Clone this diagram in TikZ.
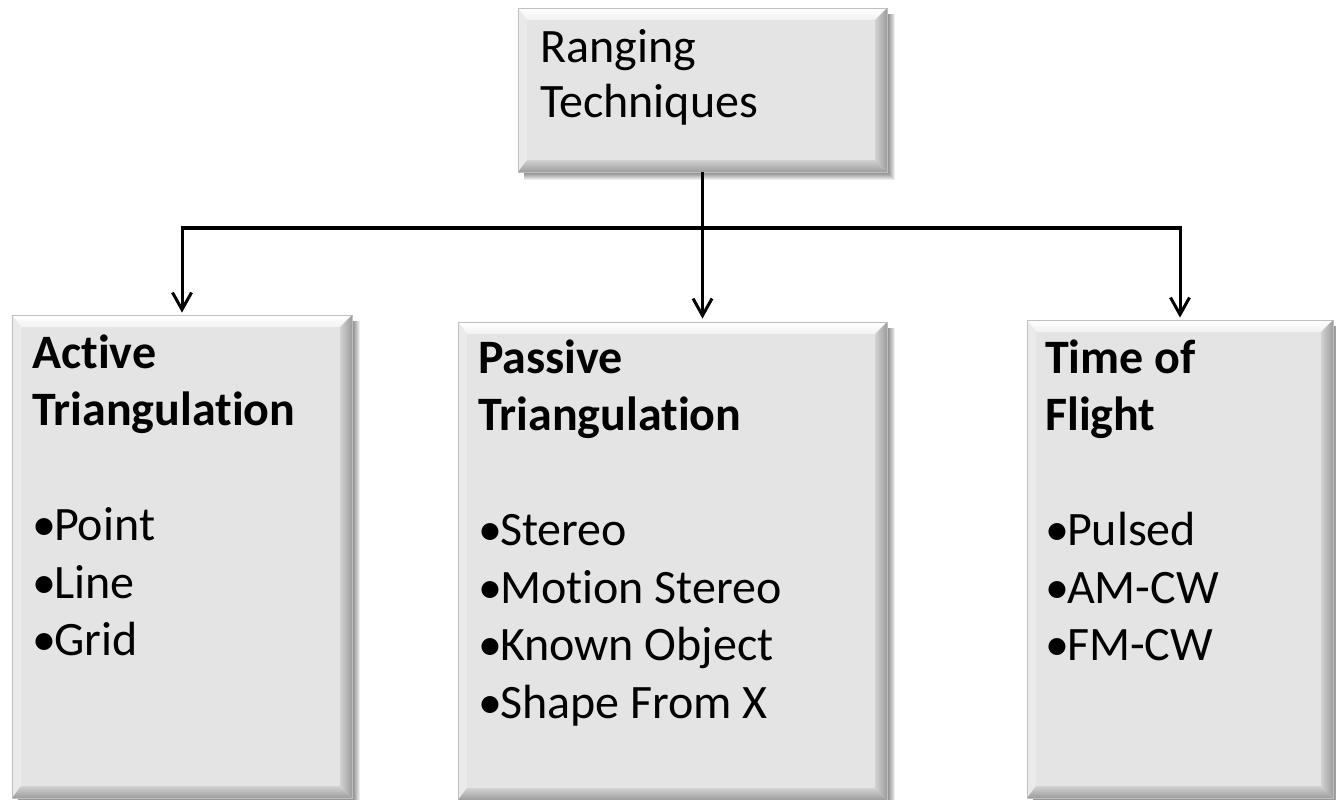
\documentclass[tikz,border=0pt]{standalone}
\usepackage{fontspec}
\setmainfont{Carlito}[Ligatures={NoCommon}]
\usetikzlibrary{arrows.meta}
\definecolor{facegray}{HTML}{E4E4E4}
\definecolor{topbev}{HTML}{F2F2F2}
\definecolor{leftbev}{HTML}{EAEAEA}
\definecolor{darkbev}{HTML}{9C9C9C}
\definecolor{midbev}{HTML}{D2D2D2}
\tikzset{
  boxshape/.style={rectangle, fill=facegray, draw=black!22, line width=0.8pt, inner sep=0pt},
  txt/.style={inner sep=0pt, anchor=base west, text=black, font=\fontsize{48}{57.5}\selectfont},
  conn/.style={line width=3pt, draw=black},
  barline/.style={line width=4.5pt, draw=black},
  arr/.style={conn, -{Straight Barb[length=17pt,width=19pt]}},
}
\newcommand\bul{•\kern-2pt}
\newcommand\stack[2]{\vtop{\baselineskip=#1pt\lineskiplimit=-200pt\lineskip=0pt #2}}
\newcommand\bevbox[5]{%
  \foreach \i in {0,...,7}{\fill[black,opacity=0.07] (#2+6,#3+6) rectangle (#4+8-\i,#5+8-\i);}
  \node[boxshape, minimum width={(#4)-(#2)}, minimum height={(#5)-(#3)}] (#1) at ({((#2)+(#4))/2},{((#3)+(#5))/2}) {};
  \shade[top color=white, bottom color=topbev] (#2,#3) -- (#4,#3) -- (#4-12,#3+12) -- (#2+9,#3+12) -- cycle;
  \fill[leftbev] (#2,#3) -- (#2+9,#3+12) -- (#2+9,#5-12) -- (#2,#5) -- cycle;
  \shade[left color=midbev, right color=darkbev] (#4,#3) -- (#4,#5) -- (#4-12,#5-12) -- (#4-12,#3+12) -- cycle;
  \shade[top color=midbev, bottom color=darkbev] (#2,#5) -- (#4,#5) -- (#4-12,#5-12) -- (#2+9,#5-12) -- cycle;
  \draw[black!25, line width=0.8pt] (#2,#3) rectangle (#4,#5);
}
\begin{document}
\begin{tikzpicture}[x=1pt,y=-1pt]
\useasboundingbox[fill=white] (0,0) rectangle (1336,800);

\bevbox{top}{518}{8}{887}{172}
\bevbox{left}{12}{315}{352}{798}
\bevbox{mid}{458}{322}{887}{800}
\bevbox{right}{1027}{320}{1333}{798}

\node[txt] (ttop) at (540,63) {\stack{55}{\hbox{Ranging}\hbox{Techniques}}};
\node[txt] (tleft) at (32,368) {\stack{57.5}{\hbox{\textbf{Active}}\hbox{\textbf{Triangulation}}\hbox{}\hbox{\bul Point}\hbox{\bul Line}\hbox{\bul Grid}}};
\node[txt] (tmid) at (478,373) {\stack{57.5}{\hbox{\textbf{Passive}}\hbox{\textbf{Triangulation}}\hbox{}\hbox{\bul Stereo}\hbox{\bul Motion Stereo}\hbox{\bul Known Object}\hbox{\bul Shape From X}}};
\node[txt] (tright) at (1045,373) {\stack{57.5}{\hbox{\textbf{Time of}}\hbox{\textbf{Flight}}\hbox{}\hbox{\bul Pulsed}\hbox{\bul AM-CW}\hbox{\bul FM-CW}}};

\coordinate (j) at (702.5,228);
\draw[conn] (top.south) -- (j);
\draw[barline] ([xshift=-1.5pt]left.north |- j) -- ([xshift=1.5pt]right.north |- j);
\draw[arr, shorten >=2pt] (left.north |- j) -- (left.north);
\draw[arr, shorten >=3pt] (j) -- (j |- mid.north);
\draw[arr, shorten >=2pt] (right.north |- j) -- (right.north);
\end{tikzpicture}
\end{document}
